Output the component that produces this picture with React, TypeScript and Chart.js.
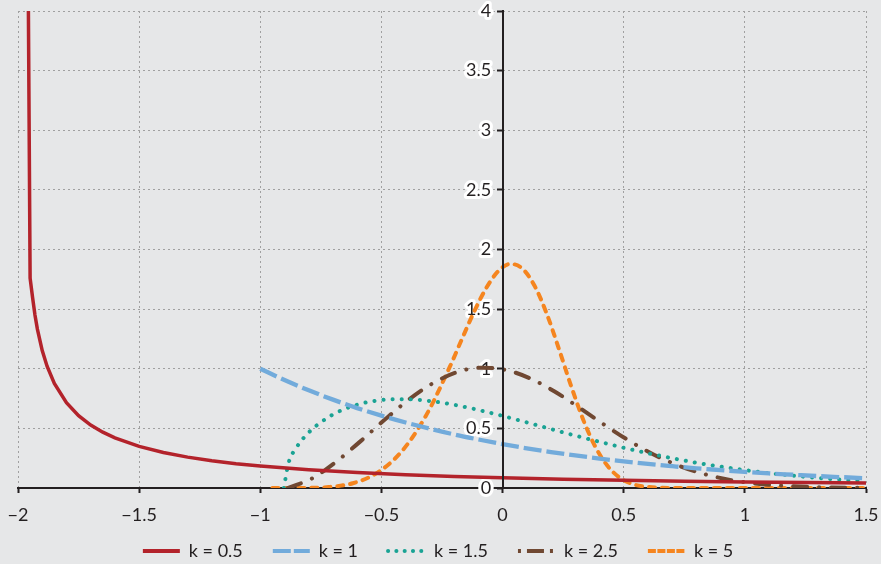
import React, { useEffect, useRef } from 'react';
import { Chart, registerables } from 'chart.js';

Chart.register(...registerables);

const FONT = 'Lato, "Open Sans", sans-serif';
const BG = '#e6e7e8';
const TEXT = '#231f20';
const GRID = '#a0a0a0';

const SERIES_LABELS = ['k = 0.5', 'k = 1', 'k = 1.5', 'k = 2.5', 'k = 5'];
const COLORS = ['#b3232b', '#72abdb', '#1aa394', '#704832', '#f5851f'];

const X_MIN = -2;
const X_MAX = 1.5;
const Y_MIN = 0;
const Y_MAX = 4;
const TICK_STEP = 0.5;

const k05X = [-1.958, -1.95, -1.94, -1.93, -1.92, -1.9, -1.88, -1.85, -1.8, -1.75, -1.7, -1.65, -1.6, -1.5, -1.4, -1.3, -1.2, -1.1, -1.0, -0.8, -0.6, -0.4, -0.2, 0, 0.25, 0.5, 0.75, 1.0, 1.25, 1.5];
const k05Y = [4.3, 1.76, 1.6, 1.45, 1.332, 1.152, 1.021, 0.876, 0.715, 0.607, 0.528, 0.468, 0.42, 0.349, 0.298, 0.259, 0.229, 0.204, 0.184, 0.153, 0.129, 0.112, 0.097, 0.086, 0.074, 0.065, 0.057, 0.051, 0.046, 0.041];

const k1X = [-1, -0.9, -0.8, -0.7, -0.6, -0.5, -0.4, -0.3, -0.2, -0.1, 0, 0.1, 0.2, 0.3, 0.4, 0.5, 0.6, 0.7, 0.8, 0.9, 1.0, 1.1, 1.2, 1.3, 1.4, 1.5];
const k1Y = [1, 0.905, 0.819, 0.741, 0.67, 0.607, 0.549, 0.497, 0.449, 0.407, 0.368, 0.333, 0.301, 0.273, 0.247, 0.223, 0.202, 0.183, 0.165, 0.15, 0.135, 0.122, 0.111, 0.1, 0.091, 0.082];

const k15X = [-0.903, -0.883, -0.853, -0.803, -0.703, -0.603, -0.503, -0.403, -0.303, -0.203, -0.103, -0.003, 0.097, 0.197, 0.297, 0.397, 0.497, 0.597, 0.697, 0.797, 0.897, 0.997, 1.097, 1.197, 1.297, 1.397, 1.5];
const k15Y = [0, 0.212, 0.332, 0.46, 0.613, 0.697, 0.737, 0.745, 0.73, 0.699, 0.656, 0.606, 0.552, 0.496, 0.441, 0.389, 0.339, 0.293, 0.251, 0.213, 0.18, 0.151, 0.125, 0.104, 0.085, 0.07, 0.056];

const k25X = [-0.887, -0.787, -0.687, -0.587, -0.487, -0.387, -0.287, -0.187, -0.087, 0.013, 0.113, 0.213, 0.313, 0.413, 0.513, 0.613, 0.713, 0.813, 0.913, 1.013, 1.113, 1.313, 1.5];
const k25Y = [0, 0.079, 0.22, 0.391, 0.572, 0.741, 0.879, 0.972, 1.009, 0.99, 0.92, 0.811, 0.679, 0.54, 0.408, 0.292, 0.199, 0.128, 0.078, 0.045, 0.025, 0.006, 0.001];

const k5X = [-0.95, -0.8, -0.718, -0.618, -0.518, -0.418, -0.318, -0.218, -0.168, -0.118, -0.068, -0.018, 0.032, 0.082, 0.132, 0.182, 0.232, 0.282, 0.332, 0.382, 0.432, 0.482, 0.532, 0.582, 0.682, 0.8, 1.5];
const k5Y = [0, 0.001, 0.008, 0.04, 0.127, 0.303, 0.6, 1.015, 1.248, 1.476, 1.675, 1.818, 1.879, 1.839, 1.696, 1.463, 1.17, 0.861, 0.577, 0.349, 0.188, 0.089, 0.036, 0.013, 0.001, 0, 0];

const SERIES_X = [k05X, k1X, k15X, k25X, k5X];
const SERIES_Y = [k05Y, k1Y, k15Y, k25Y, k5Y];

const LINE_WIDTHS = [3.5, 4.3, 4, 4, 4];
const LINE_DASHES: number[][] = [[], [18, 5], [0.1, 9], [14, 12, 0.1, 12], [6, 7]];
const LINE_CAPS = ['butt', 'butt', 'round', 'round', 'round'];
const LINE_TENSION = [0, 0.4, 0.4, 0.4, 0.4];
// legend sample patterns; each ends with a long gap, shifted so that a blank lead-in sits before the sample
const LEGEND_DASHES: number[][] = [
  [37, 60],
  [18, 3, 16, 60],
  [0.1, 8.2, 0.1, 8.2, 0.1, 8.2, 0.1, 8.2, 0.1, 60],
  [3, 6, 17, 6, 3, 60],
  [8, 1.5, 8, 1.5, 8, 1.5, 8, 60],
];
const LEGEND_CAPS = ['butt', 'butt', 'round', 'butt', 'butt'];
const LEGEND_LEAD = 16;

const fmt = (v: number | string) => {
  const n = Number(v);
  const s = String(Math.round(Math.abs(n) * 100) / 100);
  return n < 0 ? '\u2212' + s : s;
};

const tweaks = {
  id: 'tweaks',
  beforeDraw(chart: any) {
    chart.ctx.lineJoin = 'round';
  },
  afterLayout(chart: any) {
    if (chart.legend) {
      chart.legend.left -= 12;
      chart.legend.right -= 12;
    }
  },
};

export default function App() {
  const ref = useRef<HTMLCanvasElement>(null);
  useEffect(() => {
    if (!ref.current) return;
    const datasets = SERIES_LABELS.map((label, i) => ({
      label,
      data: SERIES_X[i].map((x, j) => ({ x, y: SERIES_Y[i][j] })),
      borderColor: COLORS[i],
      backgroundColor: COLORS[i],
      borderWidth: LINE_WIDTHS[i],
      borderDash: LINE_DASHES[i],
      borderCapStyle: LINE_CAPS[i] as any,
      cubicInterpolationMode: (LINE_TENSION[i] > 0 ? 'monotone' : 'default') as any,
      tension: LINE_TENSION[i],
      pointRadius: 0,
      pointHoverRadius: 0,
      fill: false,
    }));
    const chart = new Chart(ref.current, {
      type: 'line',
      data: { datasets },
      plugins: [tweaks],
      options: {
        animation: false,
        responsive: false,
        events: [],
        layout: { padding: { left: 18, right: 15, top: 11, bottom: 0 } },
        scales: {
          x: {
            type: 'linear',
            min: X_MIN,
            max: X_MAX,
            afterFit: (s: any) => {
              s.height = 40;
              s.paddingLeft = 0;
              s.paddingRight = 0;
            },
            ticks: {
              stepSize: TICK_STEP,
              callback: (v: any) => fmt(v),
              font: { family: FONT, size: 18 },
              color: TEXT,
              padding: 11,
              maxRotation: 0,
              autoSkip: false,
            },
            grid: {
              color: GRID,
              lineWidth: 1,
              drawTicks: true,
              tickLength: 5,
              tickColor: TEXT,
              tickWidth: 2,
              tickBorderDash: [],
            },
            border: { display: true, color: TEXT, width: 2, dash: [2, 3] },
          },
          y: {
            type: 'linear',
            min: Y_MIN,
            max: Y_MAX,
            position: { x: 0 } as any,
            ticks: { stepSize: TICK_STEP, display: false },
            grid: {
              color: GRID,
              lineWidth: 1,
              drawTicks: true,
              tickLength: 5,
              tickColor: TEXT,
              tickWidth: 2,
              tickBorderDash: [],
            },
            border: { display: true, color: TEXT, width: 2, dash: [2, 3], z: 1 } as any,
          },
          yLabels: {
            type: 'linear',
            min: Y_MIN,
            max: Y_MAX,
            position: { x: -0.047 } as any,
            z: 1,
            afterFit: (s: any) => {
              s.paddingTop = 0;
              s.paddingBottom = 0;
            },
            ticks: {
              stepSize: TICK_STEP,
              callback: (v: any) => fmt(v),
              font: { family: FONT, size: 18 },
              color: TEXT,
              padding: 0,
              textStrokeColor: '#ffffff',
              textStrokeWidth: 6,
            } as any,
            grid: { display: false },
            border: { display: false },
          },
        },
        plugins: {
          tooltip: { enabled: false },
          legend: {
            position: 'bottom',
            labels: {
              usePointStyle: true,
              pointStyleWidth: 53,
              boxHeight: 18,
              padding: 14,
              color: TEXT,
              font: { family: FONT, size: 18 },
              generateLabels: (c: any) =>
                c.data.datasets.map((ds: any, i: number) => {
                  const period = LEGEND_DASHES[i].reduce((a, b) => a + b, 0);
                  return {
                    text: ds.label,
                    datasetIndex: i,
                    hidden: false,
                    fillStyle: 'rgba(0,0,0,0)',
                    strokeStyle: COLORS[i],
                    lineWidth: 4,
                    lineDash: LEGEND_DASHES[i],
                    lineDashOffset: period - LEGEND_LEAD,
                    lineCap: LEGEND_CAPS[i],
                    pointStyle: 'line',
                    fontColor: TEXT,
                  };
                }),
            },
          },
        },
      } as any,
    });
    return () => chart.destroy();
  }, []);
  return (
    <div
      style={{
        position: 'fixed',
        left: 0,
        top: 0,
        width: 881,
        height: 564,
        overflow: 'hidden',
        background: BG,
      }}
    >
      <canvas ref={ref} width={881} height={570} style={{ display: 'block' }} />
    </div>
  );
}
